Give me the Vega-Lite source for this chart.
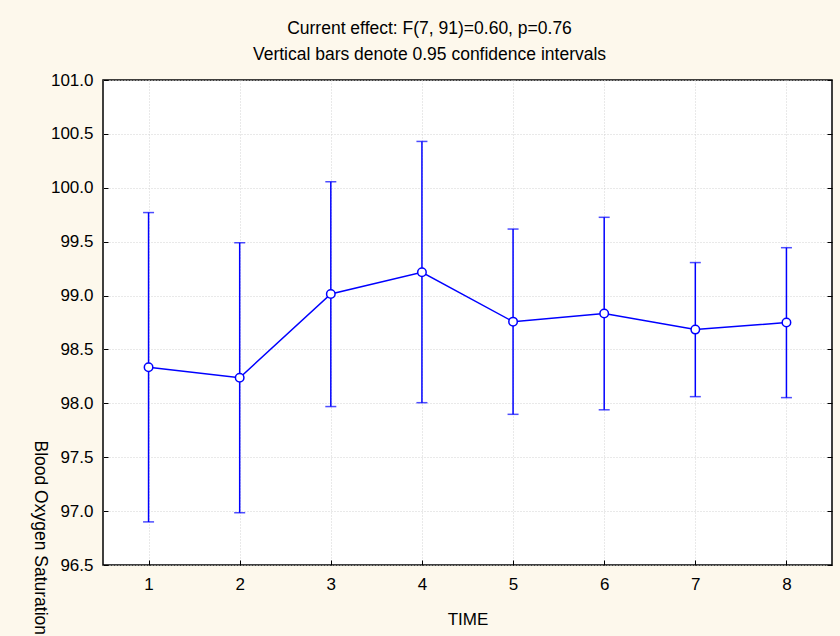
{
  "$schema": "https://vega.github.io/schema/vega-lite/v6.json",
  "autosize": {"type": "none"},
  "width": 729,
  "height": 485,
  "padding": {"left": 103, "top": 80, "right": 8, "bottom": 71},
  "background": "#fdf8ec",
  "title": {
    "text": ["Current effect: F(7, 91)=0.60, p=0.76", "Vertical bars denote 0.95 confidence intervals"],
    "font": "Liberation Sans",
    "fontSize": 17.5,
    "fontWeight": "normal",
    "color": "#000000",
    "anchor": "middle",
    "frame": "group",
    "dx": -38,
    "offset": 8,
    "lineHeight": 26
  },
  "data": {
    "values": [
      {"time": 1, "mean": 98.335, "lo": 96.90, "hi": 99.77},
      {"time": 2, "mean": 98.238, "lo": 96.985, "hi": 99.49},
      {"time": 3, "mean": 99.015, "lo": 97.97, "hi": 100.056},
      {"time": 4, "mean": 99.216, "lo": 98.006, "hi": 100.43},
      {"time": 5, "mean": 98.758, "lo": 97.898, "hi": 99.617},
      {"time": 6, "mean": 98.833, "lo": 97.94, "hi": 99.726},
      {"time": 7, "mean": 98.684, "lo": 98.062, "hi": 99.306},
      {"time": 8, "mean": 98.75, "lo": 98.053, "hi": 99.444}
    ]
  },
  "encoding": {
    "x": {
      "field": "time",
      "type": "quantitative",
      "scale": {"domain": [0.5, 8.5], "nice": false, "zero": false},
      "axis": {
        "values": [1, 2, 3, 4, 5, 6, 7, 8],
        "format": "d",
        "title": "TIME",
        "labelPadding": 16,
        "titlePadding": 19
      }
    }
  },
  "layer": [
    {
      "mark": {
        "type": "errorbar",
        "color": "#0000ff",
        "thickness": 1.5,
        "ticks": {"size": 11, "thickness": 1.5, "color": "#0000ff"}
      },
      "encoding": {
        "y": {
          "field": "lo",
          "type": "quantitative",
          "scale": {"domain": [96.5, 101.0], "nice": false, "zero": false},
          "axis": {
            "orient": "left",
            "values": [96.5, 97.0, 97.5, 98.0, 98.5, 99.0, 99.5, 100.0, 100.5, 101.0],
            "format": ".1f",
            "title": "Blood Oxygen Saturation",
            "titleFontSize": 17.5,
            "labelPadding": 15,
            "titleAngle": 90,
            "titleAlign": "left",
            "titleBaseline": "middle",
            "titleX": -64,
            "titleY": 360
          }
        },
        "y2": {"field": "hi"}
      }
    },
    {
      "mark": {"type": "line", "color": "#0000ff", "strokeWidth": 1.5},
      "encoding": {
        "y": {"field": "mean", "type": "quantitative", "axis": null}
      }
    },
    {
      "mark": {"type": "point", "shape": "circle", "filled": true, "fill": "#ffffff", "stroke": "#0000ff", "strokeWidth": 1.5, "size": 72, "opacity": 1},
      "encoding": {
        "y": {"field": "mean", "type": "quantitative", "axis": null}
      }
    },
    {
      "mark": {"type": "point", "opacity": 0},
      "encoding": {
        "y": {
          "field": "mean",
          "type": "quantitative",
          "axis": {
            "orient": "right",
            "values": [96.5, 97.0, 97.5, 98.0, 98.5, 99.0, 99.5, 100.0, 100.5, 101.0],
            "labels": false,
            "grid": false,
            "title": null
          }
        }
      }
    }
  ],
  "resolve": {"axis": {"y": "independent"}},
  "config": {
    "view": {"fill": "#ffffff", "stroke": "#000000", "strokeWidth": 1.5},
    "axis": {
      "domain": false,
      "labelFont": "Liberation Sans",
      "labelFontSize": 17,
      "labelColor": "#000000",
      "titleFont": "Liberation Sans",
      "titleFontSize": 17,
      "titleFontWeight": "normal",
      "titleColor": "#000000",
      "tickColor": "#000000",
      "tickSize": -5,
      "tickWidth": 1,
      "gridColor": "#d2d2d2",
      "gridDash": [1, 2],
      "gridWidth": 1
    }
  }
}
